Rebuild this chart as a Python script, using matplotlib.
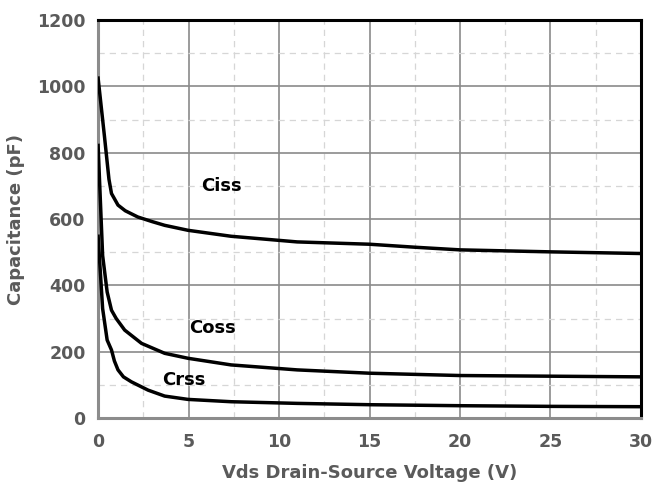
import matplotlib.pyplot as plt
from matplotlib.ticker import MultipleLocator

# values
vds_ciss = [0, 0.35, 0.6, 0.74, 1.1, 1.5, 2.2, 3.0, 3.68, 4.97, 7.35, 11, 15, 17.5, 20, 25, 30]
ciss = [1025, 850, 720, 677, 642, 625, 606, 592, 581, 566, 548, 531, 524, 515, 507, 501, 496]

vds_coss = [0, 0.25, 0.5, 0.74, 1.0, 1.47, 2.4, 3.68, 4.97, 7.35, 11, 15, 20, 25, 30]
coss = [822, 490, 380, 325, 300, 265, 225, 195, 180, 160, 145, 135, 128, 126, 124]

vds_crss = [0, 0.25, 0.5, 0.74, 0.9, 1.1, 1.4, 1.84, 2.76, 3.68, 4.97, 7.35, 11, 15, 20, 25, 30]
crss = [548, 330, 235, 205, 172, 145, 124, 109, 84, 66, 56, 49, 44, 40, 37, 35, 34]

curve_labels = ["Ciss", "Coss", "Crss"]
label_pos = [(6.8, 699), (6.35, 270), (4.75, 114)]

grey = "#5a5a5a"
plt.rcParams['font.family'] = ['DejaVu Sans']

fig = plt.figure(figsize=(6.54, 4.9), dpi=100)
ax = fig.add_axes([0.150, 0.147, 0.830, 0.812])

ax.plot(vds_ciss, ciss, color="black", lw=2.5, solid_joinstyle="round", zorder=3)
ax.plot(vds_coss, coss, color="black", lw=2.5, solid_joinstyle="round", zorder=3)
ax.plot(vds_crss, crss, color="black", lw=2.5, solid_joinstyle="round", zorder=3)

for name, (x, y) in zip(curve_labels, label_pos):
    ax.text(x, y, name, ha="center", va="center", fontsize=13,
            fontweight="bold", color="black", zorder=4)

ax.set_xlim(0, 30)
ax.set_ylim(0, 1200)
ax.xaxis.set_major_locator(MultipleLocator(5))
ax.xaxis.set_minor_locator(MultipleLocator(2.5))
ax.yaxis.set_major_locator(MultipleLocator(200))
ax.yaxis.set_minor_locator(MultipleLocator(100))

ax.grid(which="major", color="#8a8a8a", lw=1.2, zorder=1)
ax.grid(which="minor", color="#d6d6d6", lw=0.9, ls=(0, (5, 4)), zorder=0)

for side in ["top", "right"]:
    ax.spines[side].set_color("black")
    ax.spines[side].set_linewidth(2.2)
for side in ["left", "bottom"]:
    ax.spines[side].set_color("#8c8c8c")
    ax.spines[side].set_linewidth(2.2)

ax.tick_params(which="both", length=0)
ax.tick_params(axis="x", pad=11)
ax.tick_params(axis="y", pad=9)
for lab in ax.get_xticklabels() + ax.get_yticklabels():
    lab.set_fontsize(12.5)
    lab.set_fontweight("bold")
    lab.set_color(grey)

ax.set_xlabel("Vds Drain-Source Voltage (V)", fontsize=13, fontweight="bold",
              color=grey, labelpad=9)
ax.set_ylabel("Capacitance (pF)", fontsize=13, fontweight="bold",
              color=grey, labelpad=9)

fig.savefig("out.png", dpi=100)
